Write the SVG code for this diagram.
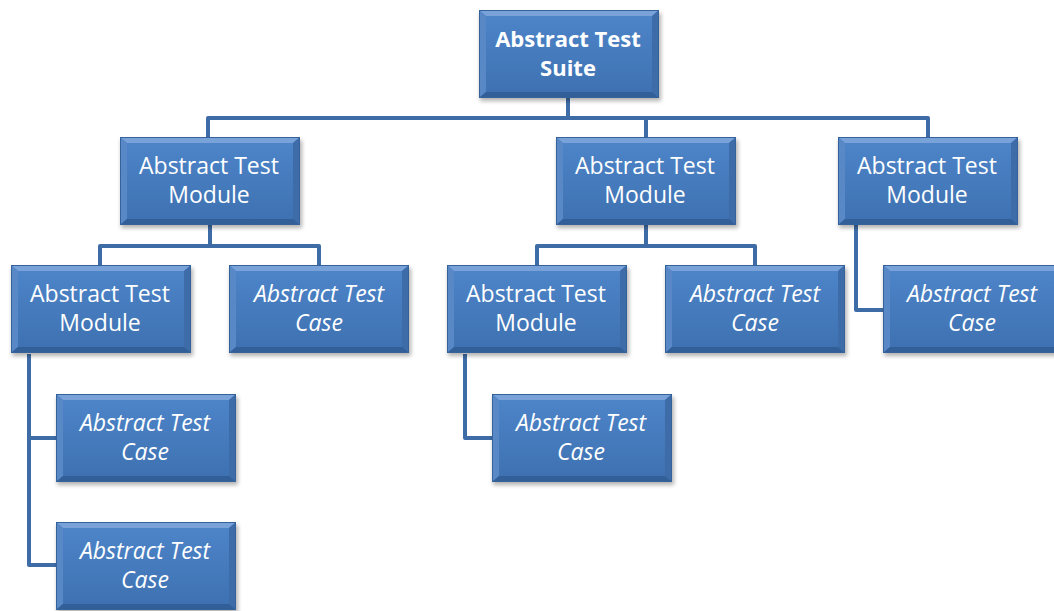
<svg xmlns="http://www.w3.org/2000/svg" xmlns:xlink="http://www.w3.org/1999/xlink" width="1054" height="611" viewBox="0 0 1054 611">
<defs>
<linearGradient id="face" x1="0" y1="0" x2="0" y2="1">
<stop offset="0" stop-color="#4e86ca"/>
<stop offset="1" stop-color="#3d70b0"/>
</linearGradient>
<filter id="sh" x="-10%" y="-10%" width="130%" height="140%">
<feGaussianBlur stdDeviation="2"/>
</filter>
<g id="box">
<rect x="1" y="3" width="181" height="88" fill="#000" opacity="0.3" filter="url(#sh)"/>
<rect x="0" y="0" width="180" height="88" fill="url(#face)"/>
<polygon points="0,0 180,0 173,6 7,6" fill="#78a2d8"/>
<polygon points="0,0 7,6 7,82 0,88" fill="#5888c6"/>
<polygon points="180,0 180,88 173,82 173,6" fill="#3e6ca8"/>
<polygon points="0,88 7,82 173,82 180,88" fill="#335f98"/>
<rect x="0.5" y="0.5" width="179" height="87" fill="none" stroke="#35629a" stroke-width="1"/>
</g>
<style>
text{fill:#ffffff;font-family:"Open Sans","Noto Sans",sans-serif;font-size:23px;text-anchor:middle}
.b{font-weight:bold;font-size:22px}
.i{font-style:italic}
.c{fill:none;stroke:#3e6ca6;stroke-width:4;stroke-linejoin:round}
</style>
</defs>
<rect width="1054" height="611" fill="#ffffff"/>
<g id="connectors">
<path class="c" d="M568,98 V118 M208,137 V118 H928 V137 M646,118 V137"/>
<path class="c" d="M210,225 V246 M100,265 V246 H319 V265"/>
<path class="c" d="M646,225 V246 M537,265 V246 H755 V265"/>
<path class="c" d="M856,225 V310 H883"/>
<path class="c" d="M29,354 V565 H56 M29,438 H56"/>
<path class="c" d="M465,354 V438 H492"/>
</g>
<g id="suite">
<use xlink:href="#box" x="479" y="10"/>
<text class="b" x="568" y="47">Abstract Test</text>
<text class="b" x="568" y="76">Suite</text>
</g>
<g id="module1">
<use xlink:href="#box" x="120" y="137"/>
<text x="209" y="174">Abstract Test</text>
<text x="209" y="203">Module</text>
</g>
<g id="module2">
<use xlink:href="#box" x="556" y="137"/>
<text x="645" y="174">Abstract Test</text>
<text x="645" y="203">Module</text>
</g>
<g id="module3">
<use xlink:href="#box" x="838" y="137"/>
<text x="927" y="174">Abstract Test</text>
<text x="927" y="203">Module</text>
</g>
<g id="module1a">
<use xlink:href="#box" x="11" y="265"/>
<text x="100" y="302">Abstract Test</text>
<text x="100" y="331">Module</text>
</g>
<g id="case1b">
<use xlink:href="#box" x="229" y="265"/>
<text class="i" x="319" y="302">Abstract Test</text>
<text class="i" x="319" y="331">Case</text>
</g>
<g id="module2a">
<use xlink:href="#box" x="447" y="265"/>
<text x="536" y="302">Abstract Test</text>
<text x="536" y="331">Module</text>
</g>
<g id="case2b">
<use xlink:href="#box" x="665" y="265"/>
<text class="i" x="755" y="302">Abstract Test</text>
<text class="i" x="755" y="331">Case</text>
</g>
<g id="case3a">
<use xlink:href="#box" x="883" y="265"/>
<text class="i" x="972" y="302">Abstract Test</text>
<text class="i" x="972" y="331">Case</text>
</g>
<g id="case1a1">
<use xlink:href="#box" x="56" y="394"/>
<text class="i" x="145" y="431">Abstract Test</text>
<text class="i" x="145" y="460">Case</text>
</g>
<g id="case2a1">
<use xlink:href="#box" x="492" y="394"/>
<text class="i" x="581" y="431">Abstract Test</text>
<text class="i" x="581" y="460">Case</text>
</g>
<g id="case1a2">
<use xlink:href="#box" x="56" y="522"/>
<text class="i" x="145" y="559">Abstract Test</text>
<text class="i" x="145" y="588">Case</text>
</g>
</svg>
